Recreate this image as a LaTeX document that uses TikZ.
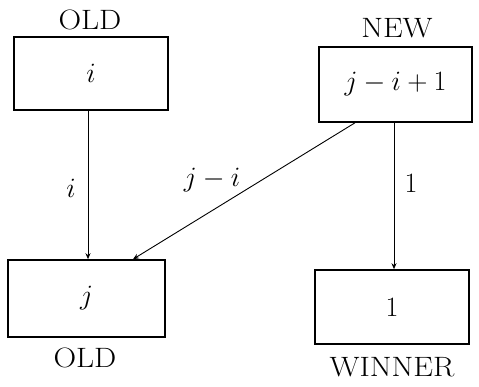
\RequirePackage{fix-cm}
\documentclass[tikz,border=0pt]{standalone}
\usepackage{graphicx}
\usetikzlibrary{arrows.meta}
\newcommand{\widetext}[1]{\scalebox{1.12}[1]{#1}}
\tikzset{
  box/.style={draw, line width=1.6pt, minimum width=#1, inner sep=0pt},
  lbl/.style={font=\fontsize{28}{32}\selectfont, inner sep=0pt},
  arr/.style={line width=0.9pt, -{Stealth[length=6pt,width=5pt]}},
}
\begin{document}
\begin{tikzpicture}[x=1pt,y=-1pt]
\useasboundingbox (0,0) rectangle (479,387);
\node[box=154pt, minimum height=73pt, lbl] (b1) at (91,73.5) {$i$};
\node[box=153pt, minimum height=75pt, lbl] (b2) at (395.5,84.5) {$j-i+1$};
\node[box=157pt, minimum height=77pt, lbl] (b3) at (86.5,298.5) {$j$};
\node[box=154pt, minimum height=74pt, lbl] (b4) at (392,307) {$1$};
\node[lbl] (t1) at (90,20) {\widetext{OLD}};
\node[lbl] (t2) at (397,28) {\widetext{NEW}};
\node[lbl] (t3) at (85,358) {\widetext{OLD}};
\node[lbl] (t4) at (392,367) {\widetext{WINNER}};
\coordinate (xa) at (88,0);
\coordinate (xb) at (355,0);
\coordinate (xc) at (133,0);
\coordinate (xd) at (394,0);
\draw[arr] (xa |- b1.south) -- (xa |- b3.north);
\draw[arr] (xb |- b2.south) -- (xc |- b3.north);
\draw[arr] (xd |- b2.south) -- (xd |- b4.north);
\node[lbl] (l1) at (71,188) {$i$};
\node[lbl] (l2) at (212,180) {$j-i$};
\node[lbl] (l3) at (411,183) {$1$};
\end{tikzpicture}
\end{document}
